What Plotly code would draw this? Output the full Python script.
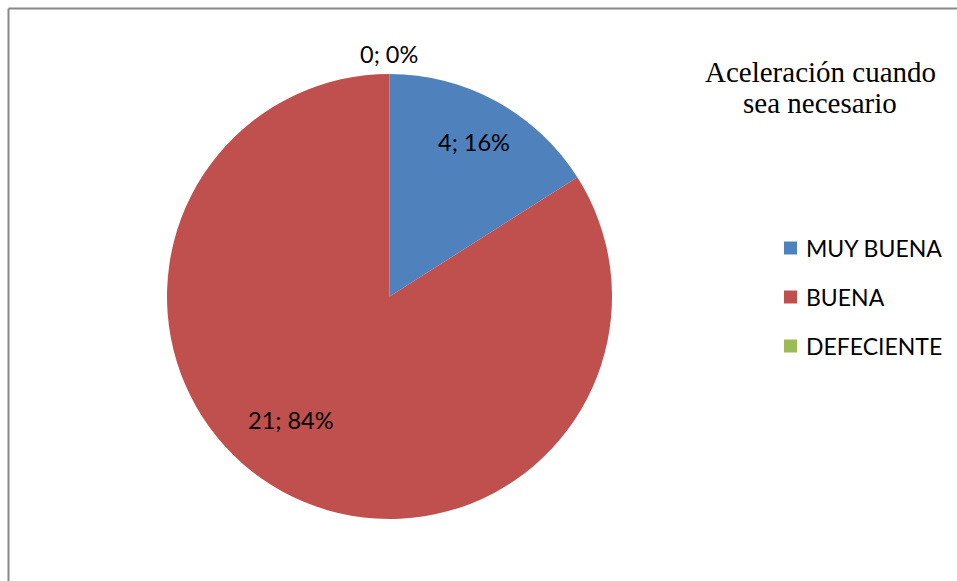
import math
import plotly.graph_objects as go

# Survey answers
categories = ["MUY BUENA", "BUENA", "DEFECIENTE"]
counts = [4, 21, 0]
colors = ["#4F81BD", "#C0504D", "#9BBB59"]
title_lines = ["Aceleración cuando", "sea necesario"]

W, H = 957, 581
cx, cy, R = 389.5, 296.5, 222.5  # pie centre and radius in pixels


def px(x):
    return x / W


def py(y):
    return 1 - y / H


fig = go.Figure(go.Pie(
    labels=categories,
    values=counts,
    marker=dict(colors=colors, line=dict(width=0)),
    sort=False,
    direction="clockwise",
    rotation=0,
    textinfo="none",
    hoverinfo="label+value+percent",
    showlegend=False,
    domain=dict(x=[px(cx - R), px(cx + R)], y=[py(cy + R), py(cy - R)]),
))

# Data labels "value; percent", placed along each slice
total = sum(counts)
label_font = dict(family="Lato, Open Sans, sans-serif", size=23.5, color="#000000")
placement = [(0.0, 0.79), (10.0, 0.71), (0.0, 1.09)]  # (angle shift in deg, radial factor)
start = 0.0
for i, v in enumerate(counts):
    sweep = 360.0 * v / total
    mid = start + sweep / 2 + placement[i][0]
    r = R * placement[i][1]
    lx = cx + r * math.sin(math.radians(mid))
    ly = cy - r * math.cos(math.radians(mid))
    fig.add_annotation(
        x=px(lx), y=py(ly), xref="paper", yref="paper",
        text=f"{v}; {round(100 * v / total)}%", showarrow=False,
        font=label_font, xanchor="center", yanchor="middle",
    )
    start += sweep

# Legend drawn as swatches with text
leg_font = dict(family="Lato, Open Sans, sans-serif", size=23, color="#000000")
leg_y0, leg_dy = 248, 49
for i, name in enumerate(categories):
    yy = leg_y0 + i * leg_dy
    fig.add_shape(type="rect", xref="paper", yref="paper",
                  x0=px(784), x1=px(797), y0=py(yy + 6.5), y1=py(yy - 6.5),
                  fillcolor=colors[i], line=dict(width=0))
    fig.add_annotation(x=px(804), y=py(yy), xref="paper", yref="paper",
                       text=name, showarrow=False, xanchor="left", yanchor="middle",
                       font=leg_font)

# Chart title, one annotation per line
title_font = dict(family="Liberation Serif, Times New Roman, serif", size=29, color="#000000")
for k, line in enumerate(title_lines):
    fig.add_annotation(x=px(820), y=py(72 + 31 * k), xref="paper", yref="paper",
                       text=line, showarrow=False, xanchor="center", yanchor="middle",
                       font=title_font)

# Chart-area frame
fig.add_shape(type="line", xref="paper", yref="paper", x0=px(8.5), x1=1.0, y0=py(8.5), y1=py(8.5),
              line=dict(color="#888888", width=2))
fig.add_shape(type="line", xref="paper", yref="paper", x0=px(8.5), x1=px(8.5), y0=py(8.5), y1=0.0,
              line=dict(color="#888888", width=2))

fig.update_layout(
    width=W, height=H,
    margin=dict(l=0, r=0, t=0, b=0),
    paper_bgcolor="#FFFFFF",
    plot_bgcolor="#FFFFFF",
)

fig.write_html("out.html")
